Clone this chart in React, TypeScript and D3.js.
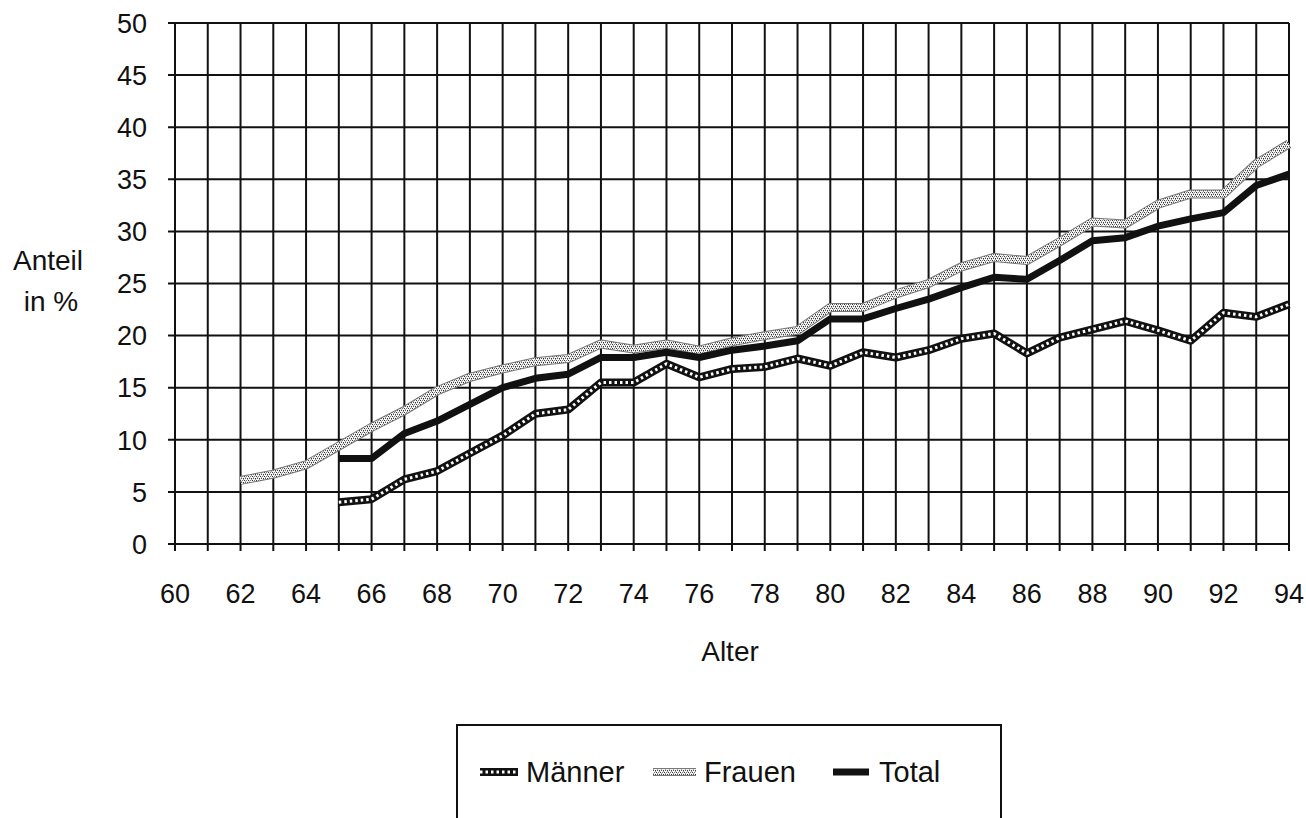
import React from 'react';
import { scaleLinear, line, range } from 'd3';

// Alter (Jahre) und Anteile in %
const ages = range(60, 95);
const xTickLabels = range(60, 95, 2);
const yTicks = [0, 5, 10, 15, 20, 25, 30, 35, 40, 45, 50];

const frauenAges = range(62, 95);
const frauen = [
  6.1, 6.7, 7.6, 9.4, 11.2, 12.8, 14.7, 16.0, 16.8, 17.5, 17.8, 19.2, 18.7, 19.2, 18.6, 19.4, 20.0,
  20.5, 22.7, 22.7, 24.0, 25.0, 26.6, 27.5, 27.2, 29.0, 30.9, 30.7, 32.6, 33.6, 33.6, 36.5, 38.4,
];

const maennerAges = range(65, 95);
const maenner = [
  4.0, 4.3, 6.2, 7.0, 8.7, 10.4, 12.5, 12.9, 15.5, 15.5, 17.3, 16.0, 16.8, 17.0, 17.8, 17.1, 18.4,
  17.9, 18.6, 19.7, 20.2, 18.3, 19.8, 20.6, 21.4, 20.5, 19.5, 22.2, 21.8, 23.0,
];

const totalAges = range(65, 95);
const total = [
  8.2, 8.2, 10.6, 11.8, 13.4, 15.0, 15.9, 16.3, 17.9, 17.9, 18.4, 17.9, 18.6, 19.0, 19.5, 21.6, 21.6,
  22.6, 23.5, 24.6, 25.6, 25.4, 27.2, 29.1, 29.4, 30.5, 31.2, 31.8, 34.4, 35.5,
];

const W = 1306;
const H = 818;
const FONT = '"Liberation Sans", Arial, Helvetica, sans-serif';

const x = scaleLinear().domain([60, 94]).range([175, 1289]);
const y = scaleLinear().domain([0, 50]).range([544, 23]);

const toPts = (a: number[], v: number[]) => a.map((d, i) => [d, v[i]] as [number, number]);
const path = line<[number, number]>()
  .x((d) => x(d[0]))
  .y((d) => y(d[1]));

const App = () => {
  const [x0, x1] = x.range();
  const [y0, y1] = y.range();

  const maennerD = path(toPts(maennerAges, maenner)) || '';
  const frauenD = path(toPts(frauenAges, frauen)) || '';
  const totalD = path(toPts(totalAges, total)) || '';

  return (
    <svg
      width={W}
      height={H}
      style={{ position: 'absolute', left: 0, top: 0, background: '#fff' }}
      fontFamily={FONT}
    >
      <defs>
        <pattern id="frauenTex" width="4" height="4" patternUnits="userSpaceOnUse">
          <rect width="4" height="4" fill="#f4f4f4" />
          <rect x="0" y="0" width="1" height="1" fill="#333" />
          <rect x="2" y="0" width="1" height="1" fill="#777" />
          <rect x="1" y="2" width="1" height="1" fill="#555" />
          <rect x="3" y="2" width="1" height="1" fill="#333" />
          <rect x="1" y="1" width="1" height="1" fill="#aaa" />
          <rect x="3" y="3" width="1" height="1" fill="#999" />
        </pattern>
      </defs>

      {/* grid */}
      <g stroke="#111" strokeWidth={2}>
        {ages.map((a) => (
          <line key={'v' + a} x1={x(a)} x2={x(a)} y1={y1} y2={y0 + 7} />
        ))}
        {yTicks.map((t) => (
          <line key={'h' + t} x1={x0 - 7} x2={x1} y1={y(t)} y2={y(t)} />
        ))}
      </g>

      {/* y tick labels */}
      <g fontSize={27} textAnchor="end" fill="#111">
        {yTicks.map((t) => (
          <text key={t} x={147} y={y(t)} dy="0.36em">
            {t}
          </text>
        ))}
      </g>

      {/* x tick labels */}
      <g fontSize={27} textAnchor="middle" fill="#111">
        {xTickLabels.map((t) => (
          <text key={t} x={x(t)} y={603}>
            {t}
          </text>
        ))}
      </g>

      <text x={730} y={661} fontSize={28} textAnchor="middle" fill="#111">
        Alter
      </text>
      <text x={48} y={270} fontSize={28} textAnchor="middle" fill="#111">
        Anteil
      </text>
      <text x={51} y={311} fontSize={28} textAnchor="middle" fill="#111">
        in %
      </text>

      {/* series */}
      <path d={frauenD} fill="none" stroke="#777" strokeWidth={9} strokeLinejoin="round" />
      <path d={frauenD} fill="none" stroke="url(#frauenTex)" strokeWidth={7} strokeLinejoin="round" />

      <path d={totalD} fill="none" stroke="#111" strokeWidth={7} strokeLinejoin="round" />

      <path d={maennerD} fill="none" stroke="#111" strokeWidth={8} strokeLinejoin="round" />
      <path
        d={maennerD}
        fill="none"
        stroke="#fff"
        strokeWidth={3}
        strokeDasharray="2.5 3"
        strokeLinejoin="round"
      />

      {/* legend */}
      <rect x={457} y={725} width={544} height={110} fill="none" stroke="#111" strokeWidth={2} />
      <g fontSize={29} fill="#111">
        <line x1={480} x2={518} y1={772} y2={772} stroke="#111" strokeWidth={8} />
        <line x1={480} x2={518} y1={772} y2={772} stroke="#fff" strokeWidth={3} strokeDasharray="2.5 3" />
        <text x={526} y={782}>Männer</text>

        <line x1={653} x2={696} y1={772} y2={772} stroke="#777" strokeWidth={8} />
        <line x1={653} x2={696} y1={772} y2={772} stroke="url(#frauenTex)" strokeWidth={6} />
        <text x={704} y={782}>Frauen</text>

        <line x1={833} x2={869} y1={772} y2={772} stroke="#111" strokeWidth={7} />
        <text x={879} y={782}>Total</text>
      </g>
    </svg>
  );
};

export default App;
